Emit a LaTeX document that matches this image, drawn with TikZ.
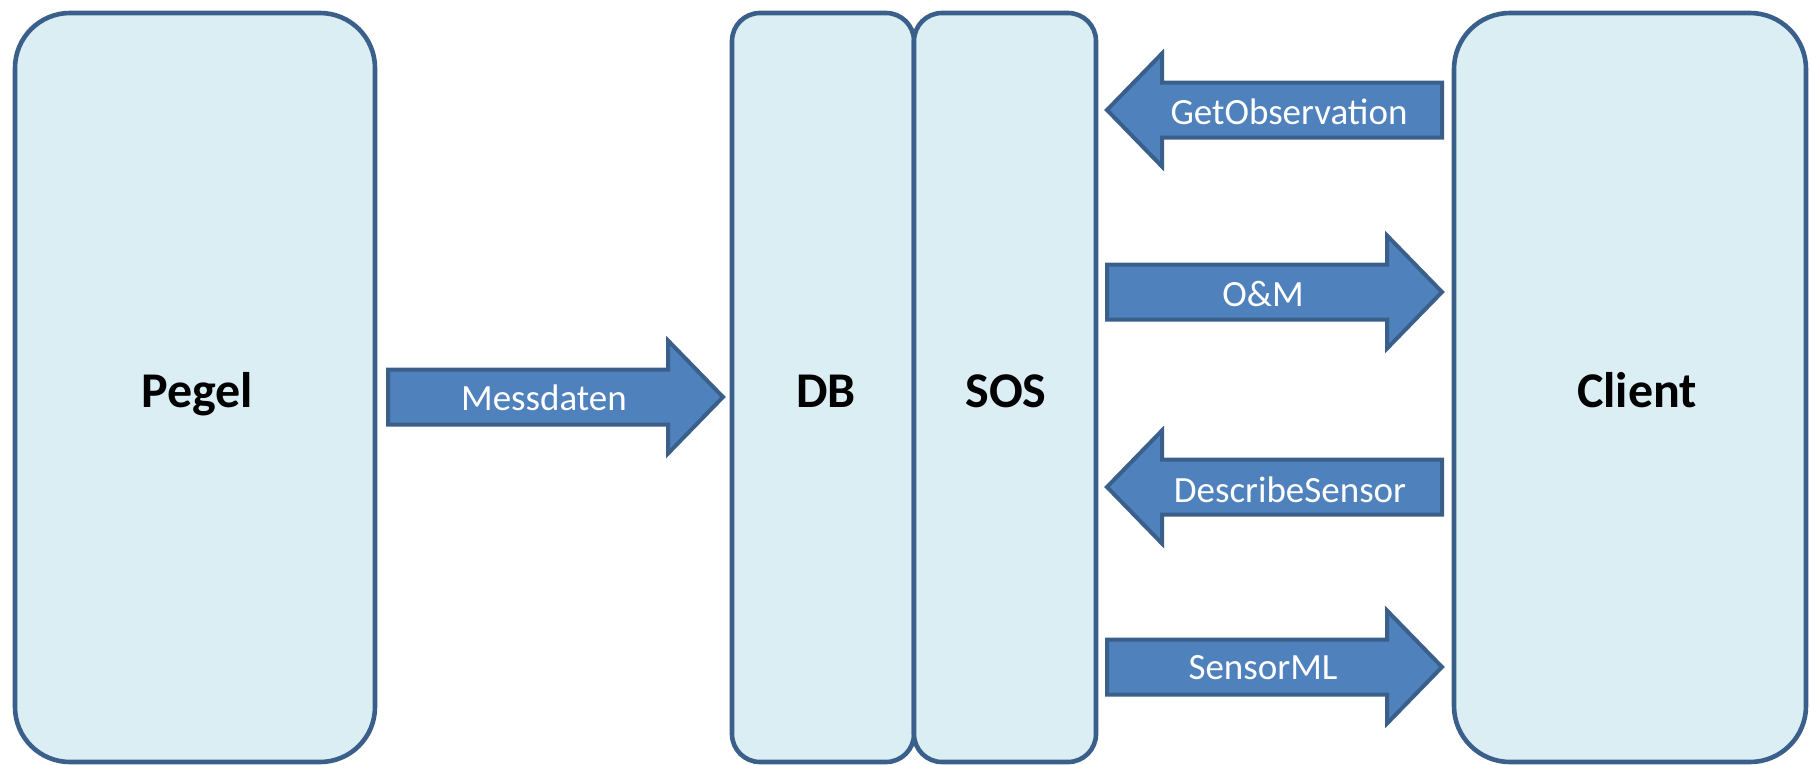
\documentclass[tikz,border=0pt]{standalone}
\usepackage{fontspec}
\setmainfont{Carlito}
\definecolor{boxfill}{HTML}{DBEEF4}
\definecolor{boxline}{HTML}{3A5F8B}
\definecolor{arrfill}{HTML}{4F81BD}
\tikzset{
  panel/.style={draw=boxline, fill=boxfill, line width=4.6pt, inner sep=0pt},
  bigtext/.style={font=\fontsize{50}{60}\selectfont\bfseries, text=black, anchor=base, inner sep=0pt},
  arrtext/.style={font=\fontsize{37}{44}\selectfont, text=white, inner sep=0pt},
  arrbody/.style={draw=boxline, fill=arrfill, line width=4pt, line join=miter},
  pics/blockarrow/.style={code={
    \draw[arrbody] (0,-27.5) -- (280,-27.5) -- (280,-56.5) -- (335,0) -- (280,56.5) -- (280,27.5) -- (0,27.5) -- cycle;
  }}
}
\begin{document}
\begin{tikzpicture}[x=1pt,y=-1pt]
\useasboundingbox (0,0) rectangle (1810,764);
% panels
\node[panel, minimum width=360pt, minimum height=749pt, rounded corners=55pt] (pegel) at (195,387.5) {};
\node[panel, minimum width=182pt, minimum height=749pt, rounded corners=28pt] (db) at (823,387.5) {};
\node[panel, minimum width=182pt, minimum height=749pt, rounded corners=28pt] (sos) at (1005,387.5) {};
\node[panel, minimum width=352pt, minimum height=749pt, rounded corners=56pt] (client) at (1630,387.5) {};
% panel labels
\node[bigtext] (lpegel) at (197,407) {Pegel};
\node[bigtext] (ldb) at (826,407) {DB};
\node[bigtext] (lsos) at (1006,407) {SOS};
\node[bigtext] (lclient) at (1637,407) {Client};
% block arrows
\pic at (388,397) {blockarrow};
\pic at (1107,292) {blockarrow};
\pic at (1107,667) {blockarrow};
\pic[xscale=-1] at (1442,110) {blockarrow};
\pic[xscale=-1] at (1442,487) {blockarrow};
% arrow labels
\node[arrtext] (messdaten) at (544,398) {Messdaten};
\node[arrtext] (om) at (1263,294) {O\&M};
\node[arrtext] (sensorml) at (1263,668) {SensorML};
\node[arrtext] (getobs) at (1289,112) {GetObservation};
\node[arrtext] (descr) at (1290,490) {DescribeSensor};
\end{tikzpicture}
\end{document}
